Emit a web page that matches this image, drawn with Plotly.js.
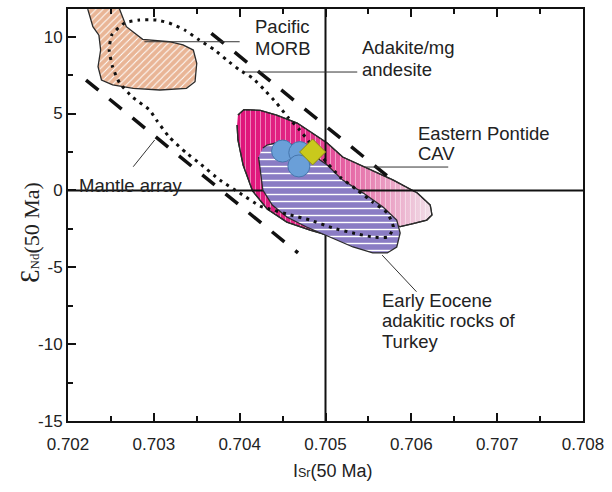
<!DOCTYPE html>
<html>
<head>
<meta charset="utf-8">
<script src="https://cdn.plot.ly/plotly-3.0.1.min.js"></script>
<style>
  html, body { margin: 0; padding: 0; background: #ffffff; }
  #chart { width: 612px; height: 492px; }
</style>
</head>
<body>
<div id="chart"></div>
<script>
// ---------- data ----------
// Pacific MORB field
const morbX = [0.70223,0.70229,0.70236,0.70238,0.70235,0.70239,0.70252,0.70276,0.70307,0.70338,0.70348,0.70350,0.70346,0.70334,0.70318,0.70287,0.70268,0.70262,0.70260];
const morbY = [11.8,10.65,10.1,9.13,8.05,7.18,6.86,6.64,6.53,6.64,7.07,8.27,9.13,9.46,9.67,9.83,10.65,11.5,11.8];

// Eastern Pontide CAV field
const cavX = [0.70398,0.70405,0.70424,0.70443,0.70467,0.70485,0.70502,0.70520,0.70548,0.70579,0.70607,0.70622,0.70624,0.70618,0.70602,0.70587,0.70572,0.70540,0.70502,0.70482,0.70455,0.70432,0.70415,0.70404,0.70398,0.70397];
const cavY = [4.90,5.26,5.20,4.90,4.38,3.73,3.08,2.17,1.46,0.67,-0.17,-0.95,-1.60,-1.93,-2.16,-2.35,-2.19,-2.45,-2.90,-2.58,-2.06,-1.21,-0.04,1.65,3.28,4.25];

// Early Eocene adakitic rocks of Turkey field
const eoceneX = [0.70427,0.70432,0.70441,0.70470,0.70485,0.70502,0.70520,0.70544,0.70567,0.70583,0.70587,0.70583,0.70572,0.70555,0.70532,0.70505,0.70478,0.70455,0.70438,0.70427,0.70424,0.70422];
const eoceneY = [2.76,2.95,3.08,2.95,2.30,1.65,0.67,-0.17,-1.08,-1.93,-2.77,-3.68,-4.07,-4.07,-3.68,-3.03,-2.38,-1.73,-0.95,0.02,1.13,2.17];

// Adakite / Mg andesite field (dotted outline)
const adakiteX = [0.70303,0.70318,0.70336,0.70353,0.70371,0.70385,0.70400,0.70415,0.70429,0.70443,0.70456,0.70470,0.70482,0.70496,0.70517,0.70537,0.70555,0.70572,0.70579,0.70573,0.70555,0.70532,0.70509,0.70482,0.70459,0.70439,0.70424,0.70400,0.70377,0.70353,0.70338,0.70318,0.70303,0.70295,0.70275,0.70260,0.70252,0.70248,0.70251,0.70266,0.70283,0.70303];
const adakiteY = [11.08,10.89,10.43,9.78,9.13,8.48,7.83,7.31,6.53,5.68,4.77,3.93,3.08,2.17,0.87,0.02,-0.76,-1.47,-2.38,-3.03,-3.03,-2.77,-2.45,-1.93,-1.60,-1.28,-1.02,-0.17,0.67,1.78,2.43,3.47,4.58,5.23,6.07,6.99,8.03,9.13,10.11,10.89,11.08,11.08];

// Mantle array (two bounding dashed lines)
const mantleUpperX = [0.70367,0.70575];
const mantleUpperY = [10.22,0.80];
const mantleLowerX = [0.70221,0.70468];
const mantleLowerY = [7.18,-4.07];

// Samples
const circleX = [0.70450,0.70470,0.70469];
const circleY = [2.56,2.46,1.59];
const diamondX = [0.70485];
const diamondY = [2.50];

// Reference lines
const refIsr = 0.705;
const refEps = 0;

// Axis ticks
const xTickVals = [0.702,0.703,0.704,0.705,0.706,0.707,0.708];
const xTickText = ['0.702','0.703','0.704','0.705','0.706','0.707','0.708'];
const xMinorVals = [0.7025,0.7035,0.7045,0.7055,0.7065,0.7075];
const yTickVals = [-15,-10,-5,0,5,10];
const yTickText = ['-15','-10','-5','0','5','10'];
const yMinorVals = [-12.5,-7.5,-2.5,2.5,7.5];
const xRange = [0.702, 0.708];
const yRange = [-15, 11.8];

// ---------- traces ----------
const outline = '#2b2b2b';
const traces = [
  { // Pacific MORB
    x: morbX, y: morbY, mode: 'lines', fill: 'toself',
    fillcolor: '#e9b596',
    fillpattern: { shape: '/', bgcolor: '#e9b596', fgcolor: '#ffffff', size: 5, solidity: 0.2, fillmode: 'replace' },
    line: { color: outline, width: 1.3 }, hoverinfo: 'skip', showlegend: false
  },
  { // CAV gradient fill
    x: cavX, y: cavY, mode: 'lines', fill: 'toself',
    fillgradient: { type: 'horizontal', colorscale: [[0,'#df137a'],[0.35,'#e22a87'],[0.7,'#e88ab7'],[1,'#f1e2ea']] },
    line: { color: outline, width: 1.3 }, hoverinfo: 'skip', showlegend: false
  },
  { // CAV hatch
    x: cavX, y: cavY, mode: 'lines', fill: 'toself',
    fillcolor: 'rgba(0,0,0,0)',
    fillpattern: { shape: '|', bgcolor: 'rgba(0,0,0,0)', fgcolor: 'rgba(255,255,255,0.6)', size: 5, solidity: 0.15, fillmode: 'replace' },
    line: { color: outline, width: 1.3 }, hoverinfo: 'skip', showlegend: false
  },
  { // vertical reference line
    x: [refIsr, refIsr], y: yRange, mode: 'lines',
    line: { color: '#111111', width: 2 }, hoverinfo: 'skip', showlegend: false
  },
  { // horizontal reference line
    x: xRange, y: [refEps, refEps], mode: 'lines',
    line: { color: '#111111', width: 2 }, hoverinfo: 'skip', showlegend: false
  },
  { // Early Eocene field
    x: eoceneX, y: eoceneY, mode: 'lines', fill: 'toself',
    fillcolor: '#8a7cc4',
    fillpattern: { shape: '-', bgcolor: '#8a7cc4', fgcolor: '#ffffff', size: 7, solidity: 0.2, fillmode: 'replace' },
    line: { color: outline, width: 1.3 }, hoverinfo: 'skip', showlegend: false
  },
  { // Adakite field dotted
    x: adakiteX, y: adakiteY, mode: 'lines',
    line: { color: '#111111', width: 3, dash: '3px,5px', shape: 'spline', smoothing: 0.5 },
    hoverinfo: 'skip', showlegend: false
  },
  { // Mantle array upper
    x: mantleUpperX, y: mantleUpperY, mode: 'lines',
    line: { color: '#111111', width: 3.5, dash: '16px,14px' }, hoverinfo: 'skip', showlegend: false
  },
  { // Mantle array lower
    x: mantleLowerX, y: mantleLowerY, mode: 'lines',
    line: { color: '#111111', width: 3.5, dash: '16px,14px' }, hoverinfo: 'skip', showlegend: false
  },
  { // circles
    x: circleX, y: circleY, mode: 'markers',
    marker: { symbol: 'circle', size: 22, color: '#6a9fd8', line: { color: '#4676ad', width: 1 } },
    hoverinfo: 'skip', showlegend: false
  },
  { // diamond
    x: diamondX, y: diamondY, mode: 'markers',
    marker: { symbol: 'diamond', size: 20, color: '#c9c91c', line: { color: '#8c8c14', width: 1 } },
    hoverinfo: 'skip', showlegend: false
  },
  { // empty trace carrying the minor-tick overlay axes
    x: [], y: [], xaxis: 'x2', yaxis: 'y2', mode: 'markers', hoverinfo: 'skip', showlegend: false
  }
];

const labelFont = { family: 'Liberation Sans, Arial, sans-serif', size: 18.5, color: '#222222' };
function lab(text, x, y) {
  return { text: text, x: x, y: y, xref: 'x', yref: 'y', xanchor: 'left', yanchor: 'middle', showarrow: false, font: labelFont };
}
const leader = (x0, y0, x1, y1) => ({ type: 'line', xref: 'x', yref: 'y', x0: x0, y0: y0, x1: x1, y1: y1, line: { color: '#333333', width: 1 }, layer: 'above' });

const layout = {
  width: 612, height: 492,
  margin: { l: 68, r: 29, t: 9, b: 71 },
  paper_bgcolor: '#ffffff', plot_bgcolor: '#ffffff',
  font: { family: 'Liberation Sans, Arial, sans-serif', color: '#222222' },
  xaxis: {
    range: xRange, tickmode: 'array', tickvals: xTickVals, ticktext: xTickText,
    ticks: 'inside', ticklen: 8, tickwidth: 2, tickcolor: '#111111',
    showline: true, linewidth: 2, linecolor: '#111111', mirror: 'ticks',
    showgrid: false, zeroline: false, ticklabelstandoff: 7,
    tickfont: { size: 17, color: '#222222' }
  },
  yaxis: {
    range: yRange, tickmode: 'array', tickvals: yTickVals, ticktext: yTickText,
    ticks: 'inside', ticklen: 8, tickwidth: 2, tickcolor: '#111111',
    showline: true, linewidth: 2, linecolor: '#111111', mirror: true,
    showgrid: false, zeroline: false,
    tickfont: { size: 17, color: '#222222' }
  },
  xaxis2: {
    overlaying: 'x', side: 'bottom', range: xRange, tickmode: 'array', tickvals: xMinorVals,
    ticks: 'inside', ticklen: 5, tickwidth: 2, tickcolor: '#111111',
    showticklabels: false, showline: false, mirror: 'ticks', showgrid: false, zeroline: false
  },
  yaxis2: {
    overlaying: 'y', side: 'left', range: yRange, tickmode: 'array', tickvals: yMinorVals,
    ticks: 'inside', ticklen: 5, tickwidth: 2, tickcolor: '#111111',
    showticklabels: false, showline: false, showgrid: false, zeroline: false
  },
  shapes: [
    leader(0.70289, 9.67, 0.70400, 9.67),
    leader(0.70406, 7.70, 0.70537, 7.70),
    leader(0.70546, 1.52, 0.70643, 1.52),
    leader(0.70566, -4.21, 0.70606, -6.59),
    leader(0.70276, 1.54, 0.70301, 3.28)
  ],
  annotations: [
    lab('Pacific', 0.70415, 10.63),
    lab('MORB', 0.70415, 9.23),
    lab('Adakite/mg', 0.70540, 9.30),
    lab('andesite', 0.70540, 7.85),
    lab('Eastern Pontide', 0.70605, 3.69),
    lab('CAV', 0.70605, 2.37),
    lab('Mantle array', 0.70210, 0.35),
    lab('Early Eocene', 0.70564, -7.13),
    lab('adakitic rocks of', 0.70564, -8.43),
    lab('Turkey', 0.70564, -9.86),
    { // x-axis title
      text: 'I<span style="font-size:12.5px">Sr</span>(50 Ma)', xref: 'paper', yref: 'paper', x: 0.5146, y: -0.1214,
      xanchor: 'center', yanchor: 'middle', showarrow: false,
      font: { family: 'Liberation Sans, Arial, sans-serif', size: 18, color: '#222222' }
    },
    { // y-axis title
      text: '<span style="font-size:27px">Ɛ</span><span style="font-size:13px">Nd</span>(50 Ma)', xref: 'paper', yref: 'paper', x: -0.0738, y: 0.4587,
      xanchor: 'center', yanchor: 'middle', textangle: -90, showarrow: false,
      font: { family: 'Liberation Serif, Times New Roman, serif', size: 22, color: '#222222' }
    }
  ]
};

Plotly.newPlot('chart', traces, layout, { displayModeBar: false, staticPlot: true });
</script>
</body>
</html>
